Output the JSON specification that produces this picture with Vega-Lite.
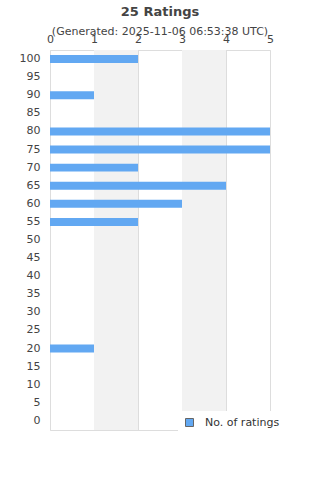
{
  "$schema": "https://vega.github.io/schema/vega-lite/v6.json",
  "width": 220,
  "height": 380,
  "autosize": {"type": "none"},
  "padding": {"left": 50, "top": 50, "right": 50, "bottom": 50},
  "background": "white",
  "config": {
    "font": "DejaVu Sans",
    "view": {"stroke": "#dddddd"},
    "axis": {"labelColor": "#444444", "labelFontSize": 11, "labelFont": "DejaVu Sans"}
  },
  "title": {
    "text": "25 Ratings",
    "subtitle": "(Generated: 2025-11-06 06:53:38 UTC)",
    "font": "DejaVu Sans",
    "fontSize": 13,
    "fontWeight": "bold",
    "color": "#444444",
    "subtitleFont": "DejaVu Sans",
    "subtitleFontSize": 11,
    "subtitleColor": "#444444",
    "subtitlePadding": 7,
    "anchor": "middle",
    "offset": -4
  },
  "layer": [
    {
      "data": {"values": [{"from": 1, "to": 2}, {"from": 3, "to": 4}]},
      "mark": {"type": "rect", "color": "#f2f2f2"},
      "encoding": {
        "x": {"field": "from", "type": "quantitative", "scale": {"domain": [0, 5]}},
        "x2": {"field": "to"}
      }
    },
    {
      "data": {"values": [
        {"rating": 100, "count": 2}, {"rating": 95, "count": 0}, {"rating": 90, "count": 1},
        {"rating": 85, "count": 0}, {"rating": 80, "count": 5}, {"rating": 75, "count": 5},
        {"rating": 70, "count": 2}, {"rating": 65, "count": 4}, {"rating": 60, "count": 3},
        {"rating": 55, "count": 2}, {"rating": 50, "count": 0}, {"rating": 45, "count": 0},
        {"rating": 40, "count": 0}, {"rating": 35, "count": 0}, {"rating": 30, "count": 0},
        {"rating": 25, "count": 0}, {"rating": 20, "count": 1}, {"rating": 15, "count": 0},
        {"rating": 10, "count": 0}, {"rating": 5, "count": 0}, {"rating": 0, "count": 0}
      ]},
      "mark": {"type": "bar"},
      "encoding": {
        "y": {
          "field": "rating", "type": "ordinal", "sort": "descending",
          "scale": {"paddingInner": 0.56, "paddingOuter": 0.28},
          "axis": {"title": null, "ticks": false, "domain": false, "labelPadding": 10, "grid": false}
        },
        "x": {
          "field": "count", "type": "quantitative",
          "scale": {"domain": [0, 5]},
          "axis": {"orient": "top", "title": null, "ticks": false, "domain": false, "tickCount": 5,
                   "grid": true, "gridColor": "#dddddd", "labelPadding": 6, "labelFlush": false}
        },
        "color": {
          "datum": "No. of ratings",
          "scale": {"range": ["#62a8f2"]},
          "legend": {
            "title": null, "orient": "none", "legendX": 128, "legendY": 361,
            "fillColor": "white", "padding": 6, "symbolType": "square", "symbolSize": 64,
            "symbolStrokeColor": "#666666", "symbolStrokeWidth": 1, "labelFontSize": 11,
            "labelColor": "#333333", "labelOffset": 10
          }
        }
      }
    }
  ]
}
